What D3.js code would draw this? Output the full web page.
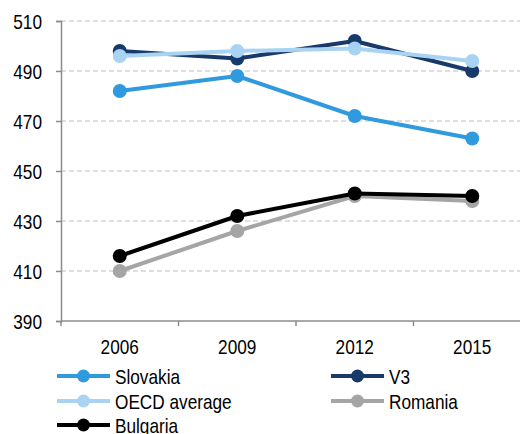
<!DOCTYPE html>
<html>
<head>
<meta charset="utf-8">
<script src="https://cdn.jsdelivr.net/npm/d3@7"></script>
<style>
  html, body { margin: 0; padding: 0; background: #fff; }
  svg { display: block; font-family: "Liberation Sans", Arial, sans-serif; }
</style>
</head>
<body>
<svg id="chart" width="520" height="434"></svg>
<script>
// PISA-style scores by survey year
const years = ["2006", "2009", "2012", "2015"];
const yTicks = [390, 410, 430, 450, 470, 490, 510];

const slovakia = [482, 488, 472, 463];
const v3 = [498, 495, 502, 490];
const oecd = [496, 498, 499, 494];
const romania = [410, 426, 440, 438];
const bulgaria = [416, 432, 441, 440];

const series = [
  { name: "Slovakia", values: slovakia, color: "#2f9ade" },
  { name: "V3", values: v3, color: "#173a6a" },
  { name: "OECD average", values: oecd, color: "#a9d3f2" },
  { name: "Romania", values: romania, color: "#a5a5a5" },
  { name: "Bulgaria", values: bulgaria, color: "#000000" }
];

// condensed look: regular sans squeezed horizontally
const FS = 21;
const SQUEEZE = 0.82;

const svg = d3.select("#chart");
const plotLeft = 61, plotRight = 531, plotTop = 21, plotBottom = 321;

const x = d3.scaleBand().domain(years).range([plotLeft, plotRight]);
const y = d3.scaleLinear().domain([390, 510]).range([plotBottom, plotTop]);

function label(parent, tx, ty, text, anchor) {
  return parent.append("text")
    .attr("transform", `translate(${tx},${ty}) scale(${SQUEEZE},1)`)
    .attr("text-anchor", anchor)
    .attr("font-size", FS)
    .attr("fill", "#000")
    .text(text);
}

// dashed horizontal gridlines
svg.append("g")
  .selectAll("line")
  .data(yTicks.filter(t => t > 390))
  .join("line")
  .attr("x1", plotLeft).attr("x2", 520)
  .attr("y1", d => y(d)).attr("y2", d => y(d))
  .attr("stroke", "#d4d4d4")
  .attr("stroke-width", 1.5)
  .attr("stroke-dasharray", "5,3");

// y axis
const yAxis = svg.append("g")
  .attr("transform", `translate(${plotLeft},0)`)
  .call(d3.axisLeft(y).tickValues(yTicks).tickSize(5).tickFormat(""));
yAxis.select(".domain").attr("stroke", "#8c8c8c").attr("stroke-width", 1.5);
yAxis.selectAll(".tick line").attr("stroke", "#8c8c8c").attr("stroke-width", 1.5);
const yLabels = svg.append("g");
yTicks.forEach(t => label(yLabels, plotLeft - 19, y(t) + 7.5, d3.format("d")(t), "end"));

// x axis: ticks at band boundaries, labels centered in bands
const xg = svg.append("g").attr("transform", `translate(0,${plotBottom})`);
xg.append("line").attr("x1", plotLeft).attr("x2", 520).attr("y1", 0).attr("y2", 0)
  .attr("stroke", "#8c8c8c").attr("stroke-width", 1.5);
xg.selectAll("line.tk")
  .data(years)
  .join("line")
  .attr("class", "tk")
  .attr("x1", d => x(d)).attr("x2", d => x(d))
  .attr("y1", 0).attr("y2", 5)
  .attr("stroke", "#8c8c8c").attr("stroke-width", 1.5);
years.forEach(yr => label(xg, x(yr) + x.bandwidth() / 2, 33, yr, "middle"));

const cx = (d, i) => x(years[i]) + x.bandwidth() / 2;
const line = d3.line().x((d, i) => cx(d, i)).y(d => y(d));

// series lines and markers
series.forEach(s => {
  const g = svg.append("g");
  g.append("path")
    .attr("d", line(s.values))
    .attr("fill", "none")
    .attr("stroke", s.color)
    .attr("stroke-width", 4)
    .attr("stroke-linejoin", "round");
  g.selectAll("circle")
    .data(s.values)
    .join("circle")
    .attr("cx", (d, i) => cx(d, i))
    .attr("cy", d => y(d))
    .attr("r", 7)
    .attr("fill", s.color);
});

// legend
const legendPos = [
  { x: 57, y: 376 }, { x: 331, y: 376 },
  { x: 57, y: 401 }, { x: 331, y: 401 },
  { x: 57, y: 425 }
];
series.forEach((s, i) => {
  const p = legendPos[i];
  const g = svg.append("g").attr("transform", `translate(${p.x},${p.y})`);
  g.append("line").attr("x1", 0).attr("x2", 53).attr("y1", 0).attr("y2", 0)
    .attr("stroke", s.color).attr("stroke-width", 4);
  g.append("circle").attr("cx", 26.5).attr("cy", 0).attr("r", 6.5).attr("fill", s.color);
  label(g, 58, 7.5, s.name, "start");
});
</script>
</body>
</html>
